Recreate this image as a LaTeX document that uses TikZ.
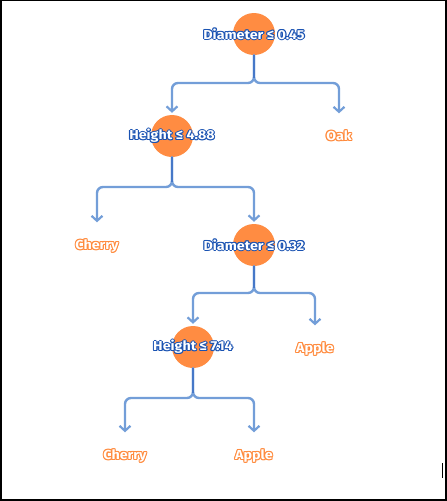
\documentclass[tikz,border=0pt]{standalone}
\usepackage{fontspec}
\setmainfont{Fira Sans}[UprightFont={* Bold}, FakeStretch=1.1]
\usetikzlibrary{arrows.meta}
\definecolor{dorange}{RGB}{255,140,66}
\definecolor{dblue}{RGB}{25,82,178}
\definecolor{lorange}{RGB}{255,138,60}
\definecolor{cblue}{RGB}{115,158,216}
\definecolor{sblue}{RGB}{70,120,200}
\newcommand\hoff[3]{\rlap{\kern#1\raisebox{#2}{#3}}}
\newcommand\outl[2]{%
  \hoff{1.1pt}{0pt}{\textcolor{#1}{#2}}%
  \hoff{-1.1pt}{0pt}{\textcolor{#1}{#2}}%
  \hoff{0pt}{1.1pt}{\textcolor{#1}{#2}}%
  \hoff{0pt}{-1.1pt}{\textcolor{#1}{#2}}%
  \hoff{0.8pt}{0.8pt}{\textcolor{#1}{#2}}%
  \hoff{-0.8pt}{0.8pt}{\textcolor{#1}{#2}}%
  \hoff{0.8pt}{-0.8pt}{\textcolor{#1}{#2}}%
  \hoff{-0.8pt}{-0.8pt}{\textcolor{#1}{#2}}%
  \textcolor{white}{#2}}
\tikzset{
  dec/.style={circle, fill=dorange, minimum size=42pt, inner sep=0pt},
  dectext/.style={font=\fontsize{13}{15}\selectfont, inner sep=0pt},
  leaf/.style={font=\fontsize{13}{15}\selectfont, inner sep=0pt, text height=9pt, text depth=0pt},
  conn/.style={draw=cblue, line width=2.4pt, rounded corners=6pt, line cap=round,
    -{Straight Barb[length=5pt,width=11pt,line width=2.2pt]}},
}
\begin{document}
\begin{tikzpicture}[x=1pt,y=-1pt]
\useasboundingbox (0,0) rectangle (447,501);
\draw[line width=1.5pt] (0.75,0.5) rectangle (445.8,499.8);
\draw[line width=1pt] (442,463) -- (442,478);
% decision nodes
\node[dec] (n1) at (254,34) {};
\node[dec] (n2) at (172,136) {};
\node[dec] (n3) at (254,245) {};
\node[dec] (n4) at (193,347) {};
% leaves
\node[leaf] (oak) at (339,136) {\outl{lorange}{Oak}};
\node[leaf] (ch1) at (97,245) {\outl{lorange}{Cherry}};
\node[leaf] (ap1) at (315,348) {\outl{lorange}{Apple}};
\node[leaf] (ch2) at (125,455) {\outl{lorange}{Cherry}};
\node[leaf] (ap2) at (254,455) {\outl{lorange}{Apple}};
% split points
\coordinate (s1) at (254,83);
\coordinate (s2) at (172,187);
\coordinate (s3) at (254,293);
\coordinate (s4) at (193,398);
% connectors
\draw[conn, shorten >=2pt] (n1.south) -- (s1) -| (n2.north);
\draw[conn, shorten >=18pt] (n1.south) -- (s1) -| (oak.north);
\draw[conn, shorten >=18pt] (n2.south) -- (s2) -| (ch1.north);
\draw[conn, shorten >=2pt] (n2.south) -- (s2) -| (n3.north);
\draw[conn, shorten >=2pt] (n3.south) -- (s3) -| (n4.north);
\draw[conn, shorten >=18pt] (n3.south) -- (s3) -| (ap1.north);
\draw[conn, shorten >=18pt] (n4.south) -- (s4) -| (ch2.north);
\draw[conn, shorten >=18pt] (n4.south) -- (s4) -| (ap2.north);
\foreach \n/\s in {n1/s1,n2/s2,n3/s3,n4/s4}
  \draw[sblue, line width=2.4pt] (\n.south) -- ([yshift=5pt]\s);
% decision labels
\node[dectext] at (n1) {\outl{dblue}{Diameter ≤ 0.45}};
\node[dectext] at (n2) {\outl{dblue}{Height ≤ 4.88}};
\node[dectext] at (n3) {\outl{dblue}{Diameter ≤ 0.32}};
\node[dectext] at (n4) {\outl{dblue}{Height ≤ 7.14}};
\end{tikzpicture}
\end{document}
